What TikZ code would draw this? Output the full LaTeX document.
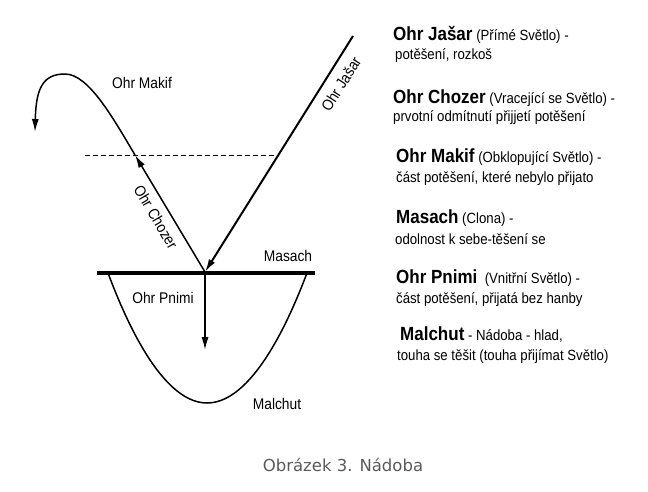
\documentclass[tikz,border=0pt]{standalone}
\usepackage{fontspec}
\usepackage{graphicx}
\setmainfont{Liberation Sans}
\newfontfamily\capfont{DejaVu Sans}
\usetikzlibrary{arrows.meta}
\definecolor{capgray}{HTML}{5A5A5A}
\tikzset{
  lbl/.style={inner sep=0pt, font=\fontsize{13.8}{16}\selectfont},
  txt/.style={inner sep=0pt, anchor=west, font=\fontsize{13.2}{16}\selectfont},
  ray/.style={line width=1.5pt},
  tip/.style={-{Latex[length=13pt,width=7pt]}}
}
\newcommand{\vs}[1]{\scalebox{1}[1.12]{#1}}
\newcommand{\hd}[1]{{\fontsize{17}{19}\selectfont\bfseries #1}}
\begin{document}
\begin{tikzpicture}[x=1pt,y=-1pt]
\useasboundingbox (0,0) rectangle (648,491);
% coordinates
\coordinate (J) at (353,36);
\coordinate (V) at (205,272);
\coordinate (D) at (135,155);
\coordinate (T) at (35,132);
\coordinate (BL) at (97,273);
\coordinate (BR) at (315,273);
\coordinate (CL) at (108,273);
\coordinate (CB) at (207,403);
\coordinate (CR) at (307,273);
\coordinate (P) at (205,350);
\coordinate (DL) at (85,155);
\coordinate (DR) at (278,155);
% dashed line
\draw[line width=1pt, dash pattern=on 5pt off 3pt] (DL) -- (DR);
% bowl
\draw[ray] (CL) parabola bend (CB) (CR);
% Ohr Jasar
\draw[line width=2pt, tip] (J) -- (V);
% Ohr Chozer
\draw[ray, tip] (V) -- (D);
\draw[ray, tip] (D) .. controls (112,116) and (88,74) .. (65,74)
   .. controls (43,74) and (36,88) .. (T);
% Masach bar
\draw[line width=4pt] (BL) -- (BR);
% Ohr Pnimi
\draw[ray, tip] (V) -- (P);
% diagram labels
\node[lbl] (lmakif) at (142,83) {\vs{Ohr Makif}};
\node[lbl, rotate=57.8] (ljasar) at (341,84) {\vs{Ohr Jašar}};
\node[lbl, rotate=-59.5] (lchozer) at (156,217) {\vs{Ohr Chozer}};
\node[lbl] (lmasach) at (288,256) {\vs{Masach}};
\node[lbl] (lpnimi) at (163,298) {\vs{Ohr Pnimi}};
\node[lbl] (lmalchut) at (277,404) {\vs{Malchut}};
% legend
\node[txt] (t1a) at (393,35) {\vs{\hd{Ohr Jašar} (Přímé Světlo) -}};
\node[txt] (t1b) at (395,56) {\vs{potěšení, rozkoš}};
\node[txt] (t2a) at (393,98) {\vs{\hd{Ohr Chozer} (Vracející se Světlo) -}};
\node[txt] (t2b) at (393,118) {\vs{prvotní odmítnutí přijjetí potěšení}};
\node[txt] (t3a) at (396,157) {\vs{\hd{Ohr Makif} (Obklopující Světlo) -}};
\node[txt] (t3b) at (396,179) {\vs{část potěšení, které nebylo přijato}};
\node[txt] (t4a) at (396,218) {\vs{\hd{Masach} (Clona) -}};
\node[txt] (t4b) at (395,239) {\vs{odolnost k sebe-těšení se}};
\node[txt] (t5a) at (396,278) {\vs{\hd{Ohr Pnimi}\ \ (Vnitřní Světlo) -}};
\node[txt] (t5b) at (396,300) {\vs{část potěšení, přijatá bez hanby}};
\node[txt] (t6a) at (400,335) {\vs{\hd{Malchut} - Nádoba - hlad,}};
\node[txt] (t6b) at (397,357) {\vs{touha se těšit (touha přijímat Světlo)}};
% caption
\node[inner sep=0pt, text=capgray, font=\capfont\fontsize{16.5}{19}\selectfont] (cap) at (343,465) {Obrázek 3. Nádoba};
\end{tikzpicture}
\end{document}
